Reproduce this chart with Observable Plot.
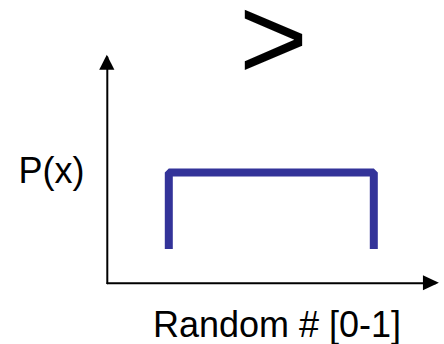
<!DOCTYPE html>
<html>
<head>
<meta charset="utf-8">
<script src="https://cdn.jsdelivr.net/npm/d3@7"></script>
<script src="https://cdn.jsdelivr.net/npm/@observablehq/plot@0.6"></script>
<style>
  html, body { margin: 0; padding: 0; background: #fff; }
</style>
</head>
<body>
<div id="chart"></div>
<script>
// Uniform distribution P(x) for a random number in [0, 1]
const pdfX = [0, 0, 1, 1];
const pdfY = [0.31, 1, 1, 0.31];

// Axis extents (data units)
const axisXMin = -0.3;
const axisXMax = 1.32;
const axisYMax = 2.06;

// Labels
const yLabel = "P(x)";
const xLabel = "Random # [0-1]";
const topSymbol = ">";

const pdf = pdfX.map((x, i) => ({x, y: pdfY[i]}));

// axis lines
const xAxisLine = [{x: axisXMin, y: 0}, {x: axisXMax - 0.02, y: 0}];
const yAxisLine = [{x: axisXMin, y: 0}, {x: axisXMin, y: axisYMax - 0.02}];
// arrowheads
const xHeadLen = 0.078, xHeadHalf = 0.068;
const yHeadLen = 0.136, yHeadHalf = 0.037;
const xHead = [
  {x: axisXMax - xHeadLen, y1: -xHeadHalf, y2: xHeadHalf},
  {x: axisXMax, y1: 0, y2: 0}
];
const yHead = [
  {y: axisYMax - yHeadLen, x1: axisXMin - yHeadHalf, x2: axisXMin + yHeadHalf},
  {y: axisYMax, x1: axisXMin, x2: axisXMin}
];

const font = "'Liberation Sans', Arial, Helvetica, sans-serif";

const chart = Plot.plot({
  width: 444,
  height: 344,
  margin: 0,
  style: {background: "white", fontFamily: font},
  x: {domain: [0, 1], range: [168.3, 373.3], axis: null},
  y: {domain: [0, 1], range: [282.7, 172], axis: null},
  marks: [
    Plot.line(xAxisLine, {x: "x", y: "y", stroke: "black", strokeWidth: 2}),
    Plot.line(yAxisLine, {x: "x", y: "y", stroke: "black", strokeWidth: 2}),
    Plot.areaY(xHead, {x: "x", y1: "y1", y2: "y2", fill: "black"}),
    Plot.areaX(yHead, {y: "y", x1: "x1", x2: "x2", fill: "black"}),
    Plot.line(pdf, {x: "x", y: "y", stroke: "#333399", strokeWidth: 8,
      strokeLinejoin: "miter", strokeLinecap: "butt"}),
    Plot.text([yLabel], {frameAnchor: "top-left", dx: 18, dy: 170.5,
      textAnchor: "start", lineAnchor: "middle", fontSize: 36, fill: "black"}),
    Plot.text([xLabel], {frameAnchor: "top-left", dx: 276.5, dy: 325,
      textAnchor: "middle", lineAnchor: "middle", fontSize: 36, fill: "black"}),
    Plot.text([topSymbol], {frameAnchor: "top-left", dx: 273, dy: 40.5,
      textAnchor: "middle", lineAnchor: "middle", fontSize: 118, fill: "black"})
  ]
});
document.getElementById("chart").appendChild(chart);
</script>
</body>
</html>
